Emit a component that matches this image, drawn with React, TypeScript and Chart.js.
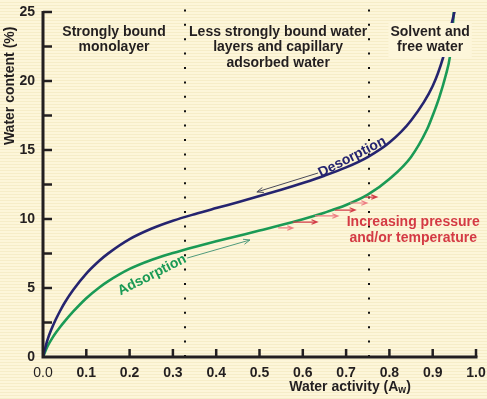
import React, { useEffect, useRef } from 'react';
import { Chart, registerables } from 'chart.js';

Chart.register(...registerables);

// ---- data ----
const desorptionActivity = [0, 0.01, 0.02, 0.03, 0.04, 0.05, 0.07, 0.1, 0.13, 0.15, 0.2, 0.25, 0.3, 0.35, 0.4, 0.45, 0.5, 0.55, 0.6, 0.65, 0.7, 0.75, 0.8, 0.85, 0.9, 0.924, 0.945, 0.956];
const desorptionContent = [0, 1.2, 2.05, 2.75, 3.37, 3.93, 4.87, 6.04, 6.97, 7.49, 8.54, 9.29, 9.87, 10.35, 10.79, 11.22, 11.66, 12.12, 12.61, 13.14, 13.74, 14.49, 15.54, 17.14, 19.64, 21.7, 24.3, 25.8];

const adsorptionActivity = [0, 0.01, 0.02, 0.03, 0.04, 0.05, 0.07, 0.1, 0.13, 0.15, 0.2, 0.25, 0.3, 0.35, 0.4, 0.45, 0.5, 0.55, 0.6, 0.65, 0.7, 0.75, 0.8, 0.85, 0.887, 0.9, 0.915, 0.93, 0.94, 0.944, 0.95];
const adsorptionContent = [0, 0.75, 1.3, 1.77, 2.19, 2.58, 3.3, 4.26, 5.04, 5.48, 6.38, 7.03, 7.53, 7.97, 8.38, 8.77, 9.16, 9.56, 9.99, 10.46, 11.01, 11.76, 12.9, 14.5, 16.5, 17.5, 18.8, 20.4, 21.8, 23.0, 25.6];

const xTicks = [0, 0.1, 0.2, 0.3, 0.4, 0.5, 0.6, 0.7, 0.8, 0.9, 1.0];
const yTicks = [0, 2.5, 5, 7.5, 10, 12.5, 15, 17.5, 20, 22.5, 25];
const zoneBoundaries = [0.328, 0.753];

const zoneLabels: { lines: string[]; x: number; y: number }[] = [
  { lines: ['Strongly bound', 'monolayer'], x: 0.164, y: 23.55 },
  { lines: ['Less strongly bound water', 'layers and capillary', 'adsorbed water'], x: 0.543, y: 23.55 },
  { lines: ['Solvent and', 'free water'], x: 0.894, y: 23.55 },
];
const pressureLabel = { lines: ['Increasing pressure', 'and/or temperature'], x: 0.855, y: 9.75 };

// red arrows: [x0, x1, y]
const pressureArrows = [
  [0.543, 0.577, 9.35],
  [0.577, 0.633, 9.78],
  [0.628, 0.681, 10.22],
  [0.674, 0.721, 10.65],
  [0.709, 0.748, 11.16],
  [0.744, 0.771, 11.59],
];
const desorptionArrow = [0.635, 13.33, 0.494, 11.96];
const adsorptionArrow = [0.333, 7.17, 0.478, 8.48];

const FONT = "'Liberation Sans', Arial, sans-serif";
const TEXT = '#231f20';
const NAVY = '#25246f';
const GREEN = '#1a9a55';
const BG = '#fdf6da';

function arrow(ctx: CanvasRenderingContext2D, x0: number, y0: number, x1: number, y1: number, color: string, w: number, head: number) {
  const a = Math.atan2(y1 - y0, x1 - x0);
  ctx.save();
  ctx.strokeStyle = color;
  ctx.lineWidth = w;
  ctx.beginPath();
  ctx.moveTo(x0, y0);
  ctx.lineTo(x1, y1);
  ctx.moveTo(x1 - head * Math.cos(a - 0.38), y1 - head * Math.sin(a - 0.38));
  ctx.lineTo(x1, y1);
  ctx.lineTo(x1 - head * Math.cos(a + 0.38), y1 - head * Math.sin(a + 0.38));
  ctx.stroke();
  ctx.restore();
}

const zeroPad = (s: any) => {
  s.paddingLeft = 0;
  s.paddingRight = 0;
  s.paddingTop = 0;
  s.paddingBottom = 0;
};

const overlay = {
  id: 'overlay',
  beforeDatasetsDraw(chart: any) {
    const { ctx, scales } = chart;
    const x = scales.x, y = scales.y;
    ctx.save();
    ctx.strokeStyle = '#111';
    ctx.lineWidth = 2;
    ctx.setLineDash([2, 12.4]);
    for (const b of zoneBoundaries) {
      const px = Math.round(x.getPixelForValue(b));
      ctx.beginPath();
      ctx.moveTo(px, y.getPixelForValue(0));
      ctx.lineTo(px, y.getPixelForValue(25.3));
      ctx.stroke();
    }
    ctx.restore();
  },
  afterDatasetsDraw(chart: any) {
    const { ctx, scales } = chart;
    const x = scales.x, y = scales.y;
    const x0 = x.getPixelForValue(0);
    const y0 = y.getPixelForValue(0);

    ctx.save();
    // zone labels
    ctx.font = `bold 14px ${FONT}`;
    ctx.textAlign = 'center';
    ctx.textBaseline = 'middle';
    for (const z of zoneLabels) {
      const cx = x.getPixelForValue(z.x);
      const cy = y.getPixelForValue(z.y);
      if (z.x > 0.8) {
        let w = 0;
        z.lines.forEach(l => (w = Math.max(w, ctx.measureText(l).width)));
        ctx.fillStyle = BG;
        ctx.fillRect(cx - w / 2 - 2, cy - 9, w + 4, z.lines.length * 15.5 + 3);
      }
      ctx.fillStyle = TEXT;
      z.lines.forEach((l, i) => ctx.fillText(l, cx, cy + i * 15.5));
    }
    // pressure label
    ctx.fillStyle = '#d43a44';
    pressureLabel.lines.forEach((l, i) =>
      ctx.fillText(l, x.getPixelForValue(pressureLabel.x), y.getPixelForValue(pressureLabel.y) + i * 16));

    // curve labels
    const rot = (txt: string, ax: number, ay: number, color: string) => {
      ctx.save();
      ctx.translate(x.getPixelForValue(ax), y.getPixelForValue(ay));
      ctx.rotate(-27 * Math.PI / 180);
      ctx.fillStyle = color;
      ctx.font = `bold 14px ${FONT}`;
      ctx.fillText(txt, 0, 0);
      ctx.restore();
    };
    rot('Desorption', 0.714, 14.49, NAVY);
    rot('Adsorption', 0.252, 5.94, GREEN);

    // thin arrows
    arrow(ctx, x.getPixelForValue(desorptionArrow[0]), y.getPixelForValue(desorptionArrow[1]),
      x.getPixelForValue(desorptionArrow[2]), y.getPixelForValue(desorptionArrow[3]), '#4a4a5a', 1, 7);
    arrow(ctx, x.getPixelForValue(adsorptionArrow[0]), y.getPixelForValue(adsorptionArrow[1]),
      x.getPixelForValue(adsorptionArrow[2]), y.getPixelForValue(adsorptionArrow[3]), '#4f9a7c', 1, 7);
    pressureArrows.forEach((a, i) => {
      const py = y.getPixelForValue(a[2]);
      arrow(ctx, x.getPixelForValue(a[0]), py, x.getPixelForValue(a[1]), py, i % 2 === 0 ? '#ee7f84' : '#d23d48', 1.2, 6);
    });

    // axes
    ctx.strokeStyle = TEXT;
    ctx.lineWidth = 3;
    ctx.beginPath();
    ctx.moveTo(x0, y.getPixelForValue(25) - 1);
    ctx.lineTo(x0, y0);
    ctx.lineTo(x.getPixelForValue(1) + 1.5, y0);
    ctx.stroke();
    ctx.lineWidth = 2.5;
    for (const t of yTicks) {
      const py = y.getPixelForValue(t);
      if (t === 0) continue;
      ctx.beginPath();
      ctx.moveTo(x0, py);
      ctx.lineTo(x0 + 9, py);
      ctx.stroke();
    }
    for (const t of xTicks) {
      if (t === 0) continue;
      const px = x.getPixelForValue(t);
      ctx.beginPath();
      ctx.moveTo(px, y0);
      ctx.lineTo(px, y0 - 8);
      ctx.stroke();
    }

    // axis titles
    ctx.fillStyle = TEXT;
    ctx.font = `bold 14px ${FONT}`;
    ctx.save();
    ctx.translate(10, y.getPixelForValue(19.65));
    ctx.rotate(-Math.PI / 2);
    ctx.textAlign = 'center';
    ctx.fillText('Water content (%)', 0, 0);
    ctx.restore();

    const main = 'Water activity (A';
    ctx.font = `bold 14px ${FONT}`;
    const w1 = ctx.measureText(main).width;
    ctx.font = `bold 10px ${FONT}`;
    const w2 = ctx.measureText('w').width;
    ctx.font = `bold 14px ${FONT}`;
    const w3 = ctx.measureText(')').width;
    const total = w1 + w2 + w3;
    const cx = x.getPixelForValue(0.709);
    const ty = y0 + 30;
    let sx = cx - total / 2;
    ctx.textAlign = 'left';
    ctx.fillText(main, sx, ty);
    sx += w1;
    ctx.font = `bold 10px ${FONT}`;
    ctx.fillText('w', sx, ty + 3);
    sx += w2;
    ctx.font = `bold 14px ${FONT}`;
    ctx.fillText(')', sx, ty);
    ctx.restore();
  },
};

export default function App() {
  const ref = useRef<HTMLCanvasElement>(null);
  useEffect(() => {
    if (!ref.current) return;
    const chart = new Chart(ref.current, {
      type: 'line',
      data: {
        datasets: [
          {
            label: 'Desorption',
            data: desorptionActivity.map((a, i) => ({ x: a, y: desorptionContent[i] })),
            borderColor: NAVY,
            borderWidth: 2.6,
            pointRadius: 0,
            cubicInterpolationMode: 'monotone',
          },
          {
            label: 'Adsorption',
            data: adsorptionActivity.map((a, i) => ({ x: a, y: adsorptionContent[i] })),
            borderColor: GREEN,
            borderWidth: 2.6,
            pointRadius: 0,
            cubicInterpolationMode: 'monotone',
          },
        ],
      },
      options: {
        animation: false,
        responsive: false,
        devicePixelRatio: 1,
        layout: { padding: { top: 12, right: 11, left: 0, bottom: 0 } },
        plugins: { legend: { display: false }, tooltip: { enabled: false } },
        scales: {
          x: {
            type: 'linear',
            min: 0,
            max: 1,
            grid: { display: false, drawTicks: false },
            border: { display: false },
            afterFit: (s: any) => { s.height = 42; zeroPad(s); },
            afterBuildTicks: (s: any) => { s.ticks = xTicks.map(v => ({ value: v })); },
            ticks: {
              autoSkip: false,
              maxRotation: 0,
              padding: 8,
              color: TEXT,
              font: (c: any) => ({ family: FONT, size: 14, weight: c.index === 0 ? 'normal' : 'bold' }),
              callback: (v: any) => Number(v).toFixed(1),
            },
          },
          y: {
            min: 0,
            max: 25,
            grid: { display: false, drawTicks: false },
            border: { display: false },
            afterFit: (s: any) => { s.width = 43; zeroPad(s); },
            afterBuildTicks: (s: any) => { s.ticks = yTicks.map(v => ({ value: v })); },
            ticks: {
              autoSkip: false,
              padding: 8,
              color: TEXT,
              font: { family: FONT, size: 14, weight: 'bold' },
              callback: (v: any) => (Number(v) % 5 === 0 ? String(v) : ''),
            },
          },
        },
      },
      plugins: [overlay],
    } as any);
    return () => chart.destroy();
  }, []);
  return (
    <div
      style={{
        position: 'absolute',
        left: 0,
        top: 0,
        width: 487,
        height: 399,
        background: `repeating-linear-gradient(to bottom, ${BG} 0px, ${BG} 2px, #f6edc8 2px, #f6edc8 3px)`,
      }}
    >
      <canvas ref={ref} width={487} height={399} style={{ display: 'block' }} />
    </div>
  );
}
